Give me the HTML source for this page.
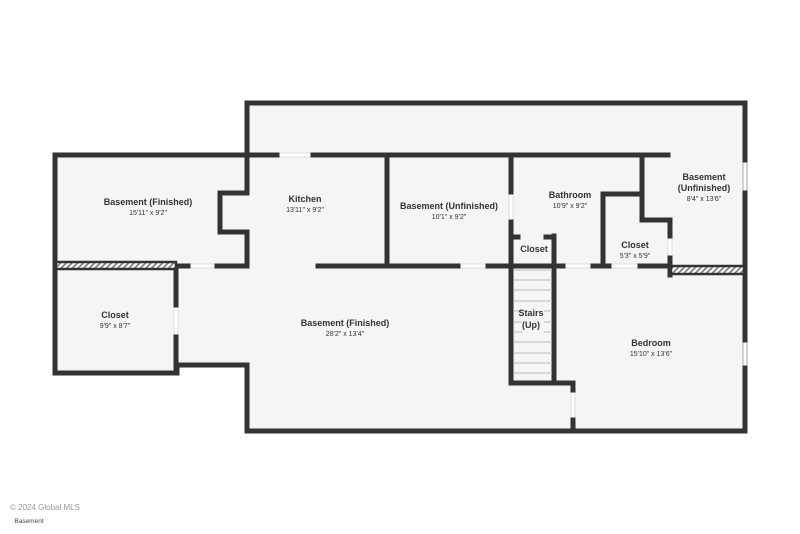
<!DOCTYPE html>
<html><head><meta charset="utf-8"><style>
html,body{margin:0;padding:0;background:#fff;}
svg{display:block}
text{font-family:"Liberation Sans","DejaVu Sans",sans-serif;fill:#333;text-anchor:middle}
.t{font-size:9px;font-weight:bold}
.d{font-size:7px}
</style></head><body>
<svg width="800" height="534" viewBox="0 0 800 534" xmlns="http://www.w3.org/2000/svg">
<defs>
<pattern id="h" width="4" height="4" patternUnits="userSpaceOnUse" patternTransform="rotate(45)">
<rect width="4" height="4" fill="#fff"/><rect width="1.6" height="4" fill="#777"/></pattern>
</defs>
<g fill="#f5f5f5">
<rect x="247" y="103" width="498" height="328"/>
<rect x="55" y="155" width="192" height="111"/>
<rect x="55" y="266" width="122" height="107"/>
<rect x="177" y="266" width="70" height="99"/>
</g>
<!-- door/window gap lines -->
<g stroke="#ddd" stroke-width="1" fill="#fff">
<rect x="277" y="153" width="36" height="4"/>
<rect x="188" y="264" width="29" height="4"/>
<rect x="458" y="264" width="30" height="4"/>
<rect x="563" y="264" width="30" height="4"/>
<rect x="609" y="264" width="31" height="4"/>
<rect x="174" y="305" width="4" height="32"/>
<rect x="509" y="192" width="4" height="30"/>
<rect x="668" y="236" width="4" height="22"/>
<rect x="571" y="390" width="4" height="30"/>
<rect x="743" y="160" width="4" height="33" stroke="#aaa"/>
<rect x="743" y="340" width="4" height="28" stroke="#aaa"/>
</g>
<g stroke="#333" stroke-width="5" fill="none" stroke-linecap="square">
<path d="M247 155 V103 H745 V160 M745 193 V340 M745 368 V431 H573 M573 420 V431 H247 V365 H177 V373 H55 V155 H247 V193 H220 V232 H247 V266 H217 M188 266 H177"/>
<path d="M176 266 V305 M176 337 V373"/>
<path d="M247 155 H277 M313 155 H668"/>
<path d="M387 155 V266"/>
<path d="M318 266 H458 M488 266 H563 M593 266 H609 M640 266 H669"/>
<path d="M511 155 V192 M511 222 V383 H554 M554 236 V383 H573 V390"/>
<path d="M511 237 H518 M546 237 H554"/>
<path d="M603 266 V194 H642 M642 155 V220 H670 V236 M670 258 V275"/>
</g>
<rect x="56" y="262" width="120" height="7" fill="url(#h)" stroke="#333" stroke-width="2.5"/>
<rect x="671" y="266" width="73" height="8" fill="url(#h)" stroke="#333" stroke-width="2.5"/>
<g stroke="#bbb" stroke-width="1">
<line x1="514" y1="270" x2="552" y2="270"/><line x1="514" y1="280" x2="552" y2="280"/>
<line x1="514" y1="290" x2="552" y2="290"/><line x1="514" y1="301" x2="552" y2="301"/>
<line x1="514" y1="311" x2="552" y2="311"/><line x1="514" y1="322" x2="552" y2="322"/>
<line x1="514" y1="332" x2="552" y2="332"/><line x1="514" y1="342" x2="552" y2="342"/>
<line x1="514" y1="353" x2="552" y2="353"/><line x1="514" y1="363" x2="552" y2="363"/>
<line x1="514" y1="373" x2="552" y2="373"/>
</g>
<rect x="522" y="308" width="22" height="26" fill="#f5f5f5"/>
<text class="t" x="148" y="205">Basement (Finished)</text><text class="d" x="148" y="215">15'11" x 9'2"</text>
<text class="t" x="305" y="202">Kitchen</text><text class="d" x="305" y="212">13'11" x 9'2"</text>
<text class="t" x="449" y="209">Basement (Unfinished)</text><text class="d" x="449" y="219">10'1" x 9'2"</text>
<text class="t" x="570" y="198">Bathroom</text><text class="d" x="570" y="208">10'9" x 9'2"</text>
<text class="t" x="704" y="180">Basement</text><text class="t" x="704" y="191">(Unfinished)</text><text class="d" x="704" y="201">8'4" x 13'6"</text>
<text class="t" x="534" y="252">Closet</text>
<text class="t" x="635" y="248">Closet</text><text class="d" x="635" y="258">5'3" x 5'9"</text>
<text class="t" x="115" y="318">Closet</text><text class="d" x="115" y="328">9'9" x 8'7"</text>
<text class="t" x="345" y="326">Basement (Finished)</text><text class="d" x="345" y="336">28'2" x 13'4"</text>
<text class="t" x="531" y="316">Stairs</text><text class="t" x="531" y="328">(Up)</text>
<text class="t" x="651" y="346">Bedroom</text><text class="d" x="651" y="356">15'10" x 13'6"</text>
<text x="10" y="510" style="font-size:8px;fill:#999;text-anchor:start">© 2024 Global MLS</text>
<text x="29" y="523" style="font-size:6.5px;fill:#444">Basement</text>
</svg>
</body></html>
